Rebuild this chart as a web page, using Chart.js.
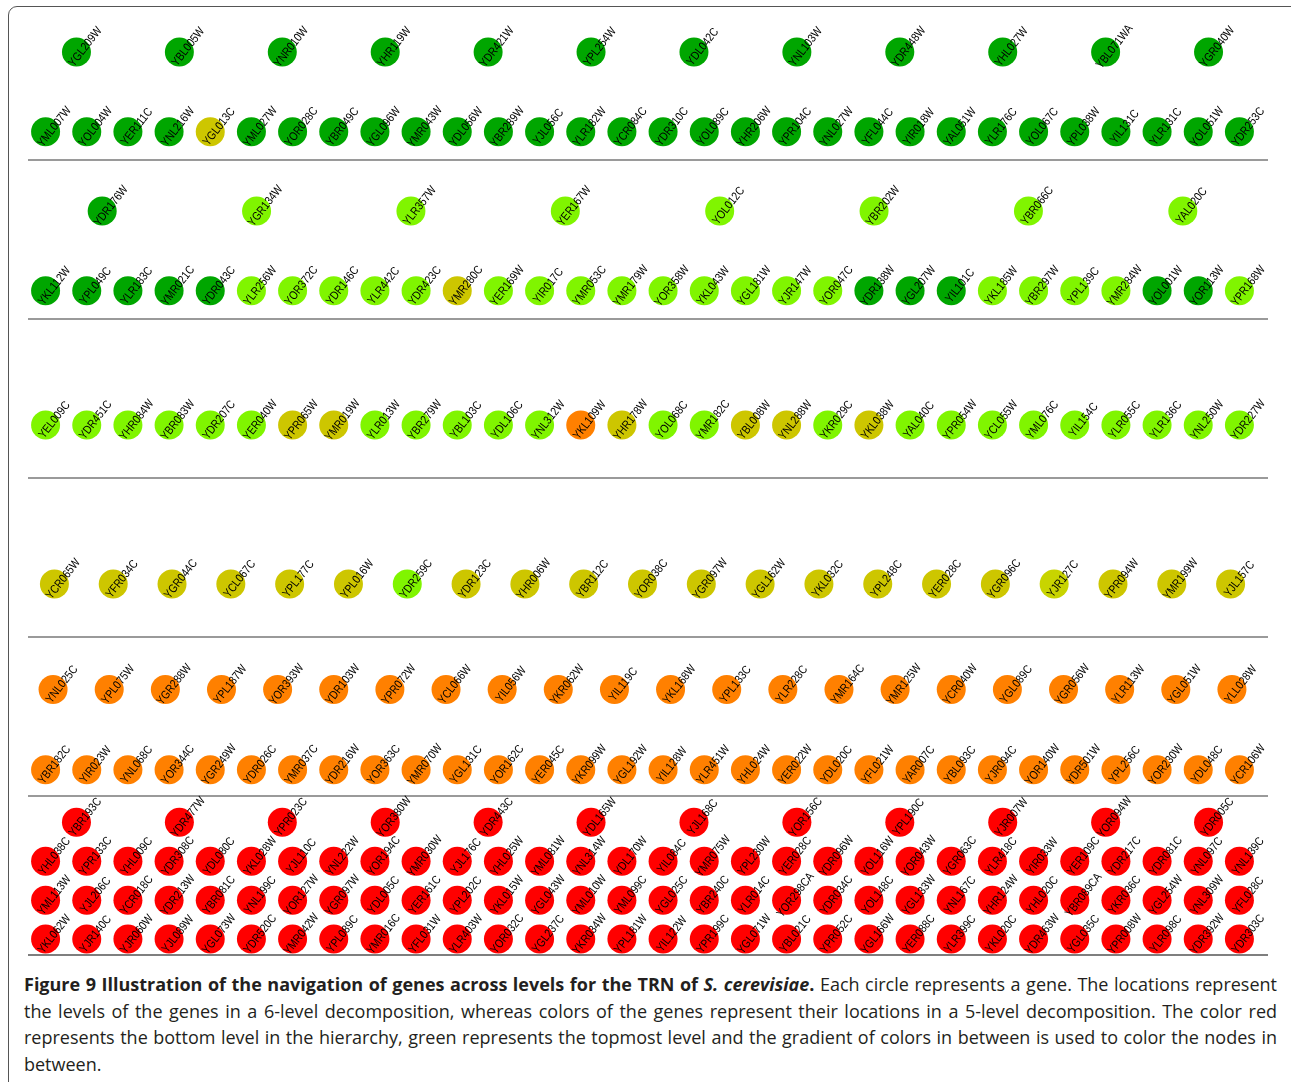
<!DOCTYPE html>
<html>
<head>
<meta charset="utf-8">
<script src="https://cdn.jsdelivr.net/npm/chart.js@4.4.0/dist/chart.umd.min.js"></script>
<style>
  html, body { margin: 0; padding: 0; background: #fff; }
  body { width: 1291px; height: 1082px; overflow: hidden; position: relative; font-family: "Open Sans", sans-serif; }
  #frame { position: absolute; left: 8px; top: 6px; width: 1300px; height: 1100px; border: 1px solid #555; border-radius: 9px 0 0 0; }
  #wrap { position: absolute; left: 0; top: 0; width: 1291px; height: 962px; }
  #caption { position: absolute; left: 24px; top: 971px; width: 1253px; font-size: 18px; line-height: 26.5px; color: #231f20; text-align: justify; }
</style>
</head>
<body>
<div id="frame"></div>
<div id="wrap"><canvas id="chart-genes" width="1291" height="962"></canvas></div>
<div id="caption"><b>Figure 9 Illustration of the navigation of genes across levels for the TRN of <i>S. cerevisiae</i>.</b> Each circle represents a gene. The locations represent the levels of the genes in a 6-level decomposition, whereas colors of the genes represent their locations in a 5-level decomposition. The color red represents the bottom level in the hierarchy, green represents the topmost level and the gradient of colors in between is used to color the nodes in between.</div>

<script>
// Genes per row, grouped by level of the 6-level decomposition (top to bottom).
// Colour codes give the level in the 5-level decomposition:
// G = top (dark green), g = 2nd (light green), y = 3rd (olive), o = 4th (orange), r = bottom (red).

const level1Top = ['YGL209W', 'YBL005W', 'YNR010W', 'YHR119W', 'YDR421W', 'YPL254W', 'YDL042C', 'YNL103W', 'YDR448W', 'YHL027W', 'YBL071WA', 'YGR040W'];
const level1TopColors = 'GGGGGGGGGGGG';

const level1Bottom = ['YML007W', 'YOL004W', 'YER111C', 'YNL216W', 'YGL013C', 'YML027W', 'YOR028C', 'YBR049C', 'YGL096W', 'YMR043W',
  'YDL056W', 'YBR289W', 'YJL056C', 'YLR182W', 'YCR084C', 'YDR310C', 'YOL089C', 'YHR206W', 'YPR104C', 'YNL027W',
  'YFL044C', 'YIR018W', 'YAL051W', 'YLR176C', 'YOL067C', 'YPL038W', 'YIL131C', 'YLR131C', 'YOL051W', 'YDR253C'];
const level1BottomColors = 'GGGGyGGGGGGGGGGGGGGGGGGGGGGGGG';

const level2Top = ['YDR176W', 'YGR134W', 'YLR357W', 'YER167W', 'YOL012C', 'YBR202W', 'YBR066C', 'YAL020C'];
const level2TopColors = 'Gggggggg';

const level2Bottom = ['YKL112W', 'YPL049C', 'YLR183C', 'YMR021C', 'YDR043C', 'YLR256W', 'YOR372C', 'YDR146C', 'YLR442C', 'YDR423C',
  'YMR280C', 'YER169W', 'YIR017C', 'YMR053C', 'YMR179W', 'YOR358W', 'YKL043W', 'YGL181W', 'YJR147W', 'YOR047C',
  'YDR138W', 'YGL207W', 'YIL101C', 'YKL185W', 'YBR297W', 'YPL139C', 'YMR284W', 'YOL001W', 'YOR113W', 'YPR168W'];
const level2BottomColors = 'GGGGG' + 'ggggg' + 'y' + 'gggg' + 'ggggg' + 'GGG' + 'gggg' + 'GG' + 'g';

const level3 = ['YEL009C', 'YDR451C', 'YHR084W', 'YBR083W', 'YDR207C', 'YER040W', 'YPR065W', 'YMR019W', 'YLR013W', 'YBR279W',
  'YBL103C', 'YDL106C', 'YNL312W', 'YKL109W', 'YHR178W', 'YOL068C', 'YMR182C', 'YBL008W', 'YNL288W', 'YKR029C',
  'YKL038W', 'YAL040C', 'YPR054W', 'YCL055W', 'YML076C', 'YIL154C', 'YLR055C', 'YLR136C', 'YNL250W', 'YDR227W'];
const level3Colors = 'gggggg' + 'yy' + 'ggggg' + 'o' + 'y' + 'gg' + 'yy' + 'g' + 'y' + 'ggggggggg';

const level4 = ['YCR065W', 'YFR034C', 'YGR044C', 'YCL067C', 'YPL177C', 'YPL016W', 'YDR259C', 'YDR123C', 'YHR006W', 'YBR112C',
  'YOR038C', 'YGR097W', 'YGL162W', 'YKL032C', 'YPL248C', 'YER028C', 'YGR096C', 'YJR127C', 'YPR094W', 'YMR199W', 'YJL157C'];
const level4Colors = 'yyyyyygyyyyyyyyyykyyy';

const level5Top = ['YNL025C', 'YPL075W', 'YGR288W', 'YPL187W', 'YOR393W', 'YDR103W', 'YPR072W', 'YCL066W', 'YIL056W', 'YKR062W',
  'YIL119C', 'YKL168W', 'YPL133C', 'YLR228C', 'YMR164C', 'YMR125W', 'YCR040W', 'YGL089C', 'YGR056W', 'YLR113W', 'YGL051W', 'YLL028W'];
const level5TopColors = 'oooooooooooooooooooooo';

const level5Bottom = ['YBR182C', 'YIR023W', 'YNL068C', 'YOR344C', 'YGR249W', 'YDR026C', 'YMR037C', 'YDR216W', 'YOR363C', 'YMR070W',
  'YGL131C', 'YOR162C', 'YER045C', 'YKR099W', 'YGL192W', 'YIL128W', 'YLR451W', 'YHL024W', 'YER022W', 'YDL020C',
  'YFL021W', 'YAR007C', 'YBL093C', 'YJR094C', 'YOR140W', 'YDR501W', 'YPL256C', 'YOR230W', 'YDL048C', 'YCR106W'];
const level5BottomColors = 'oooooooooooooooooooooooooooooo';

const level6Row1 = ['YBR193C', 'YDR477W', 'YPR023C', 'YOR380W', 'YDR443C', 'YDL165W', 'YJL168C', 'YOR156C', 'YPL190C', 'YJR007W', 'YOR094W', 'YDR005C'];
const level6Row1Colors = 'rrrrrrrrrrrr';

const level6Row2 = ['YHL038C', 'YPR133C', 'YHL009C', 'YDR308C', 'YDL080C', 'YKL028W', 'YJL110C', 'YNL222W', 'YOR194C', 'YMR030W',
  'YJL176C', 'YHL025W', 'YML081W', 'YNL314W', 'YDL170W', 'YIL084C', 'YMR075W', 'YPL230W', 'YER028C', 'YDR096W',
  'YOL116W', 'YOR043W', 'YGR063C', 'YLR418C', 'YIR033W', 'YER109C', 'YDR217C', 'YDR081C', 'YNL097C', 'YNL139C'];
const level6Row2Colors = 'rrrrrrrrrrrrrrrrrrrrrrrrrrrrrr';

const level6Row3 = ['YML113W', 'YJL206C', 'YCR018C', 'YDR213W', 'YBR081C', 'YNL199C', 'YOR127W', 'YGR097W', 'YDL005C', 'YER161C',
  'YPL202C', 'YKL015W', 'YGL043W', 'YML010W', 'YML099C', 'YGL025C', 'YBR240C', 'YLR014C', 'YOR298CA', 'YDR034C',
  'YOL148C', 'YGL133W', 'YNL167C', 'YHR124W', 'YHL020C', 'YBR089CA', 'YKR036C', 'YGL254W', 'YNL309W', 'YFL028C'];
const level6Row3Colors = 'rrrrrrrrrrrrrrrrrrrrrrrrrrrrrr';

const level6Row4 = ['YKL062W', 'YJR140C', 'YJR060W', 'YJL089W', 'YGL073W', 'YDR520C', 'YMR042W', 'YPL089C', 'YMR016C', 'YFL031W',
  'YLR403W', 'YOR032C', 'YGL237C', 'YKR034W', 'YPL181W', 'YIL122W', 'YPR199C', 'YGL071W', 'YBL021C', 'YPR052C',
  'YGL166W', 'YER088C', 'YLR399C', 'YKL020C', 'YDR463W', 'YGL035C', 'YPR008W', 'YLR098C', 'YDR392W', 'YDR303C'];
const level6Row4Colors = 'rrrrrrrrrrrrrrrrrrrrrrrrrrrrrr';

// level (1..6) of each row and the separators drawn under each level
const rowLevels = [1, 1, 2, 2, 3, 4, 5, 5, 6, 6, 6, 6];
const levelSeparators = [1, 2, 3, 4, 5, 6];

// layout only: where inside its level band a row sits (0 = top, 1 = bottom)
const rowSlot = [0.32, 0.823, 0.32, 0.823, 0.667, 0.667, 0.33, 0.835, 0.165, 0.41, 0.655, 0.90];

const rows = [level1Top, level1Bottom, level2Top, level2Bottom, level3, level4,
  level5Top, level5Bottom, level6Row1, level6Row2, level6Row3, level6Row4];
const rowColors = [level1TopColors, level1BottomColors, level2TopColors, level2BottomColors, level3Colors, level4Colors,
  level5TopColors, level5BottomColors, level6Row1Colors, level6Row2Colors, level6Row3Colors, level6Row4Colors];

const palette = {
  G: '#00a600',
  g: '#80f500',
  y: '#cdc600',
  k: '#c8d400',
  o: '#ff8000',
  r: '#ff0000',
};

const datasets = rows.map((genes, r) => ({
  genes,
  data: genes.map((g, i) => ({ x: (i + 0.5) / genes.length, y: rowLevels[r] - 1 + rowSlot[r] })),
  pointBackgroundColor: rowColors[r].split('').map((c) => palette[c]),
  pointBorderColor: rowColors[r].split('').map((c) => palette[c]),
  pointRadius: 14.5,
  pointBorderWidth: 0,
  clip: false,
}));

const separatorPlugin = {
  id: 'separators',
  beforeDatasetsDraw(chart) {
    const { ctx, chartArea, scales } = chart;
    ctx.save();
    levelSeparators.forEach((lv, i) => {
      const y = Math.round(scales.y.getPixelForValue(lv));
      const last = i === levelSeparators.length - 1;
      ctx.strokeStyle = last ? '#555' : '#9a9a9a';
      ctx.lineWidth = last ? 1.5 : 2;
      ctx.beginPath();
      ctx.moveTo(chartArea.left + 3, y);
      ctx.lineTo(chartArea.right + 8, y);
      ctx.stroke();
    });
    ctx.restore();
  },
};

const geneLabelPlugin = {
  id: 'geneLabels',
  afterDatasetsDraw(chart) {
    const { ctx } = chart;
    ctx.save();
    ctx.fillStyle = '#000';
    ctx.font = '12px "Liberation Sans", Arial, sans-serif';
    ctx.textAlign = 'center';
    ctx.textBaseline = 'middle';
    chart.data.datasets.forEach((ds, di) => {
      chart.getDatasetMeta(di).data.forEach((pt, i) => {
        ctx.save();
        ctx.translate(pt.x + 9, pt.y - 5);
        ctx.rotate(-52 * Math.PI / 180);
        ctx.scale(0.84, 1);
        ctx.fillText(ds.genes[i], 0, 0);
        ctx.restore();
      });
    });
    ctx.restore();
  },
};

new Chart(document.getElementById('chart-genes'), {
  type: 'scatter',
  data: { datasets },
  options: {
    responsive: false,
    animation: false,
    layout: { autoPadding: false, padding: { left: 25, right: 31, top: 1, bottom: 7 } },
    plugins: { legend: { display: false }, tooltip: { enabled: false } },
    scales: {
      x: { type: 'linear', min: 0, max: 1, display: false },
      y: { type: 'linear', min: 0, max: 6, reverse: true, display: false },
    },
  },
  plugins: [separatorPlugin, geneLabelPlugin],
});
</script>
</body>
</html>
